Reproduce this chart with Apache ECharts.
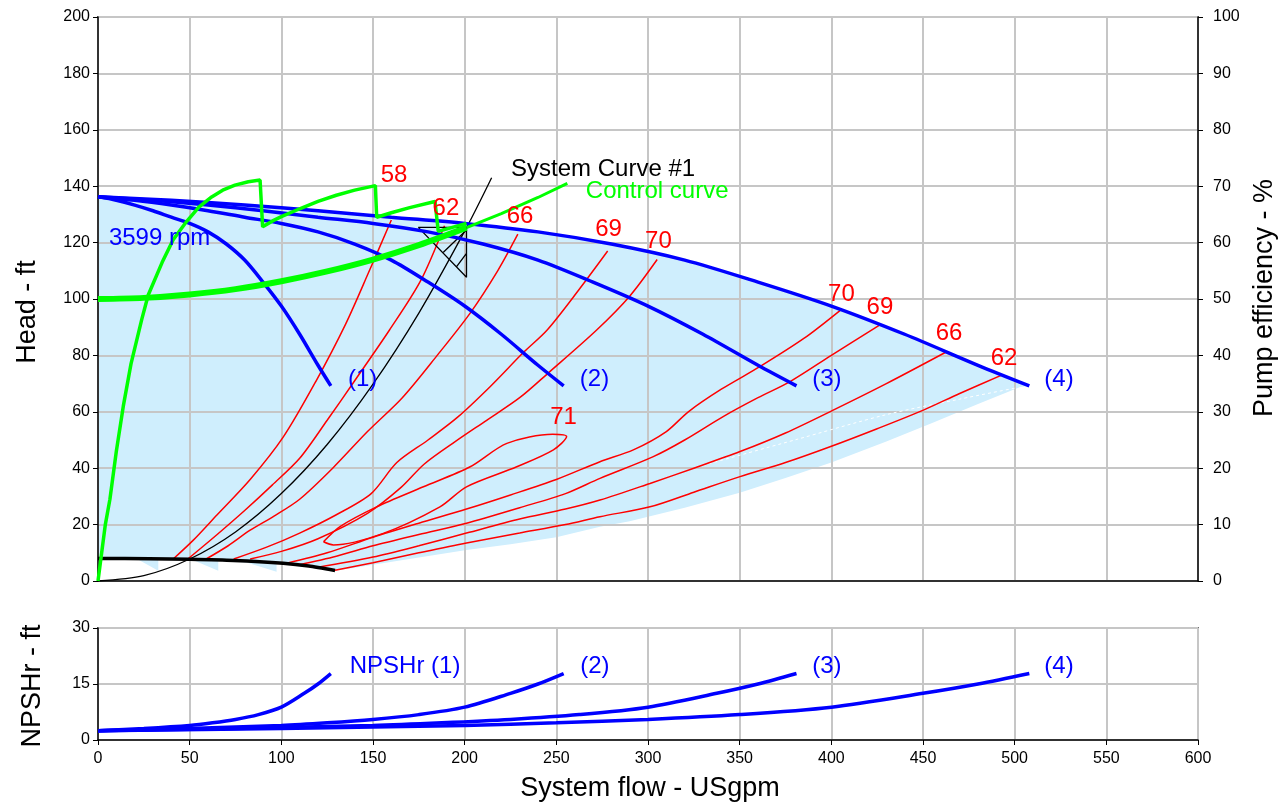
<!DOCTYPE html>
<html><head><meta charset="utf-8">
<script src="https://cdn.jsdelivr.net/npm/echarts@6/dist/echarts.min.js"></script>
<style>html,body{margin:0;padding:0;background:#fff}#c{width:1286px;height:803px}</style>
</head><body><div id="c"></div>
<script>
// ---------- data (flow USgpm, head ft / efficiency % / NPSHr ft) ----------
const pump1 = [[0,136.3],[10,135],[20,133.3],[30,131.3],[40,129],[50,126.8],[60,123.8],[70,119.5],[80,113.8],[90,106],[100,97.5],[110,87.5],[120,76.5],[127,69.2]];
const pump2 = [[0,136.3],[20,135],[40,133.3],[60,131.3],[80,129],[100,126.8],[120,123.8],[140,119.5],[160,113.8],[180,106],[200,97.5],[220,87.5],[240,76.5],[254,69.2]];
const pump3 = [[0,136.3],[30,135],[60,133.3],[90,131.3],[120,129],[150,126.8],[180,123.8],[210,119.5],[240,113.8],[270,106],[300,97.5],[330,87.5],[360,76.5],[381,69.2]];
const pump4 = [[0,136.3],[40,135],[80,133.3],[120,131.3],[160,129],[200,126.8],[240,123.8],[280,119.5],[320,113.8],[360,106],[400,97.5],[440,87.5],[480,76.5],[508,69.2]];

const npsh1 = [[0,2.5],[25,3.1],[50,3.9],[62.5,4.6],[75,5.5],[87.5,6.8],[100,8.8],[112.5,12.5],[120,15],[127,17.8]];
const npsh2 = [[0,2.5],[50,3.1],[100,3.9],[125,4.6],[150,5.5],[175,6.8],[200,8.8],[225,12.5],[240,15],[254,17.8]];
const npsh3 = [[0,2.5],[75,3.1],[150,3.9],[187.5,4.6],[225,5.5],[262.5,6.8],[300,8.8],[337.5,12.5],[360,15],[381,17.8]];
const npsh4 = [[0,2.5],[100,3.1],[200,3.9],[250,4.6],[300,5.5],[350,6.8],[400,8.8],[450,12.5],[480,15],[508,17.8]];

const efficiency = [[0,0],[2,5],[4,10],[6.5,14.5],[10,23],[13.8,31],[18,38.5],[23.8,46.3],[27.4,50.7],[35,56.5],[41,60.5],[47.5,63.4],[55,66.3],[62,68.1],[68,69.3],[74.7,70.2],[82,70.8],[88.4,71.1],
  [89.8,62.8],[95,63.8],[100,64.6],[110,66],[120,67.3],[130,68.4],[140,69.3],[151.3,70.1],
  [152,64.5],[160,65.3],[170,66.2],[183.8,67.3],
  [185.6,62],[201,63.4]];

const controlCurve = [[0,100],[25,100.4],[50,101.6],[75,103.5],[100,106.3],[125,109.8],[150,114],[175,119.1],[201,125.3]];
const controlExt = [[201,125.3],[220,130.3],[240,136],[256,141]];
const systemCurve = [[0,0],[25,1.9],[50,7.8],[75,17.4],[100,31],[125,48.4],[150,69.8],[175,95],[201,125.3],[214.7,143]];
const npshaLine = [[0,8],[28,7.9],[50,7.7],[74,7.3],[101,6.3],[115,5.3],[129.3,3.7]];
const markerTri = [[174.7,125.4],[201,125.4],[201,107.7],[174.7,125.4],null,[188.4,116.6],[201,124.5],null,[195.7,111.6],[201,116.2]];

const eff58 = [[41,7.8],[52,14.5],[65,23.5],[83,36],[101,51],[119,71],[135,91],[148,110],[160,128]];
const eff62 = [[49,7.8],[65,16.5],[80,25],[95,34],[110,43.5],[125,57],[140,71],[159,89],[176,106.5],[189,126]];
const eff66 = [[59,7.8],[71,12.5],[83,18],[96,23],[110,29],[128,40],[147,53],[166,65],[185,80],[203,95],[218,110],[229,123]];
const eff69 = [[74,7.8],[92,12],[110,17],[130,23.5],[149,31],[163,42],[180,50],[196,58],[214,69],[232,81],[245,89],[262,103],[278,117]];
const eff70 = [[83,7.8],[100,10.5],[120,15],[147,24],[165,33],[178,41.5],[195,49.5],[212,57],[230,65],[246,74],[272,89],[290,101],[305,114]];
const eff71 = [[123,13.9],[132,19.3],[152,26.3],[177.5,33.4],[203,40.5],[223,48.8],[248,52],[255.6,51.2],[248.4,46.5],[228.4,40.5],[201,33.4],[186.5,26.3],[155.6,16.9],[128.4,12.8],[123,13.9]];
const eff70R = [[102.9,6.3],[125,10],[150,15.5],[175,20.5],[201,25.5],[225,30.5],[250,36],[273.8,42.3],[292,46.5],[310,53],[322,60],[340,68],[361,76],[385,86],[404.7,95.9]];
const eff69R = [[109.3,5.7],[130,8.8],[150,12.5],[175,16.5],[201,20.5],[230,26],[255,31],[273.8,36.4],[302.9,44.1],[320,50],[341,58.3],[360,65],[377.5,70.7],[400,80],[426.5,90.8]];
const eff66R = [[119.3,4.8],[150,8.5],[175,12.5],[201,17],[230,22],[255,25.5],[273.8,28.7],[301.1,34.6],[325,40],[350.2,45.9],[375,52.5],[401,60.6],[430,70],[462.9,81.3]];
const eff62R = [[129.3,3.8],[150,6.5],[175,10],[201,13.5],[230,17],[255,20],[273.8,22.8],[301.1,26.3],[325,31.5],[350.2,37],[375,42],[399.3,47.6],[425,54],[450.2,60.6],[470,66.5],[492.9,73]];

const regionLower = [[508,69.2],[503,68.8],[480,62.8],[455,56],[430,49.5],[400,42],[375,36.5],[350,31.3],[320,26],[290,21.2],[273.8,19.2],[250,15.5],[225,13],[201,11],[175,8.3],[150,5.8],[137.5,4.4],[129.3,3.7],
  [115,5.3],[101,6.3],[97.4,6.4],[97.4,3.3],[81.1,6.6],[65.6,7.2],[65.6,3.6],[51.1,7.6],[32.9,7.9],[32.9,3.6],[21.1,7.9],[0,8]];
const regionSeam = [[330,41],[380,50],[430,59],[470,64.5],[501,68.5]];

const redLabels = [[161.5,144,'58'],[189.8,132.3,'62'],[230.2,129.4,'66'],[278.5,124.6,'69'],[305.7,120.4,'70'],[405.5,101.6,'70'],[426.5,97,'69'],[464.2,87.8,'66'],[494.2,78.9,'62'],[253.9,58,'71']];
const blueLabels = [[144.3,71.6,'(1)'],[270.8,71.6,'(2)'],[397.6,71.6,'(3)'],[524.2,71.6,'(4)'],[33.6,121.6,'3599 rpm']];
const npshLabels = [[167.5,19.8,'NPSHr (1)'],[271,19.8,'(2)'],[397.6,19.8,'(3)'],[524.2,19.8,'(4)']];
const blackLabels = [[275.5,146.1,'System Curve #1']];
const greenLabels = [[305,138.3,'Control curve']];

const flowTicks = {min:0, max:600, step:50};
const headTicks = {min:0, max:200, step:20};
const effTicks = {min:0, max:100, step:10};
const npshTicks = {min:0, max:30, step:15};

// ---------- chart ----------
const FONT = 'Liberation Sans, Arial, sans-serif';
const GRIDC = '#c6c6c6';
const chart = echarts.init(document.getElementById('c'));

function line(data, color, width, opts) {
  return Object.assign({type:'line', data, symbol:'none', smooth:0.3, animation:false, silent:true,
    lineStyle:{color, width}, xAxisIndex:0, yAxisIndex:0, z:3}, opts||{});
}
function texts(data, color, xi, yi, size) {
  return {type:'scatter', data, symbolSize:0, xAxisIndex:xi, yAxisIndex:yi, animation:false, silent:true, z:10,
    itemStyle:{opacity:1},
    label:{show:true, position:[0,0], align:'center', verticalAlign:'middle', color, opacity:1, fontSize:size||24, fontFamily:FONT,
      formatter:p=>p.data[2]}};
}
function xAx(grid, labels) {
  return {type:'value', gridIndex:grid, min:flowTicks.min, max:flowTicks.max, interval:flowTicks.step,
    axisLine:{show:true, onZero:false, lineStyle:{color:'#000', width:1.5}},
    axisTick:{show:labels, length:5, lineStyle:{color:'#000'}},
    axisLabel:{show:labels, color:'#000', fontSize:16, fontFamily:FONT, margin:11},
    splitLine:{show:true, lineStyle:{color:GRIDC, width:2}}};
}
function yAx(grid, t, pos, split, margin) {
  return {type:'value', gridIndex:grid, position:pos, min:t.min, max:t.max, interval:t.step,
    axisLine:{show:true, onZero:false, lineStyle:{color:'#000', width:1.5}},
    axisTick:{show:true, length:5, lineStyle:{color:'#000'}},
    axisLabel:{color:'#000', fontSize:16, fontFamily:FONT, margin:margin},
    splitLine:{show:split, lineStyle:{color:GRIDC, width:2}}};
}

const regionPoly = pump4.concat(regionLower);

const option = {
  backgroundColor:'#fff',
  animation:false,
  grid:[
    {left:98, top:17, width:1100, height:564, show:true, borderColor:'#000', borderWidth:1.5, backgroundColor:'transparent'},
    {left:98, top:628, width:1100, height:112, show:true, borderColor:'#000', borderWidth:1.5, backgroundColor:'transparent'}
  ],
  xAxis:[xAx(0,false), xAx(1,true)],
  yAxis:[yAx(0,headTicks,'left',true,8), yAx(0,effTicks,'right',false,15), yAx(1,npshTicks,'left',true,8)],
  graphic:[
    {type:'text', x:28, y:312, rotation:Math.PI/2, style:{text:'Head - ft', fontSize:27, fontFamily:FONT, fill:'#000', align:'center', verticalAlign:'middle'}},
    {type:'text', x:1265, y:298, rotation:Math.PI/2, style:{text:'Pump efficiency - %', fontSize:27, fontFamily:FONT, fill:'#000', align:'center', verticalAlign:'middle'}},
    {type:'text', x:33, y:686, rotation:Math.PI/2, style:{text:'NPSHr - ft', fontSize:27, fontFamily:FONT, fill:'#000', align:'center', verticalAlign:'middle'}},
    {type:'text', x:650, y:789, style:{text:'System flow - USgpm', fontSize:27, fontFamily:FONT, fill:'#000', align:'center', verticalAlign:'middle'}}
  ],
  series:[
    {type:'custom', xAxisIndex:0, yAxisIndex:0, data:[[0,0]], z:-1, silent:true, animation:false, clip:true,
      renderItem:(params, api)=>({type:'polygon', shape:{points:regionPoly.map(p=>api.coord(p))}, style:{fill:'#cfeefd', stroke:null}})},
    line(regionSeam, '#ffffff', 1, {lineStyle:{color:'#ffffff', width:1, type:[3,3]}, z:2}),
    line(eff58,'#ff0000',1.5), line(eff62,'#ff0000',1.5), line(eff66,'#ff0000',1.5), line(eff69,'#ff0000',1.5), line(eff70,'#ff0000',1.5),
    line(eff71,'#ff0000',1.5), line(eff70R,'#ff0000',1.5), line(eff69R,'#ff0000',1.5), line(eff66R,'#ff0000',1.5), line(eff62R,'#ff0000',1.5),
    line(npshaLine,'#000000',3.5,{smooth:0.2}),
    line(systemCurve,'#000000',1.3),
    line(markerTri,'#000000',1.3,{smooth:false, connectNulls:false}),
    line(pump1,'#0000ff',3.5), line(pump2,'#0000ff',3.5), line(pump3,'#0000ff',3.5), line(pump4,'#0000ff',3.5),
    line(controlCurve,'#00ff00',6,{z:4}),
    line(controlExt,'#00ff00',3,{smooth:false, z:4}),
    line(efficiency,'#00ff00',3.5,{yAxisIndex:1, smooth:false, z:4}),
    line(npsh1,'#0000ff',3.5,{xAxisIndex:1, yAxisIndex:2}),
    line(npsh2,'#0000ff',3.5,{xAxisIndex:1, yAxisIndex:2}),
    line(npsh3,'#0000ff',3.5,{xAxisIndex:1, yAxisIndex:2}),
    line(npsh4,'#0000ff',3.5,{xAxisIndex:1, yAxisIndex:2}),
    texts(redLabels,'#ff0000',0,0),
    texts(blueLabels,'#0000ff',0,0),
    texts(blackLabels,'#000000',0,0),
    texts(greenLabels,'#00ff00',0,0),
    texts(npshLabels,'#0000ff',1,2)
  ]
};
chart.setOption(option);
</script></body></html>
